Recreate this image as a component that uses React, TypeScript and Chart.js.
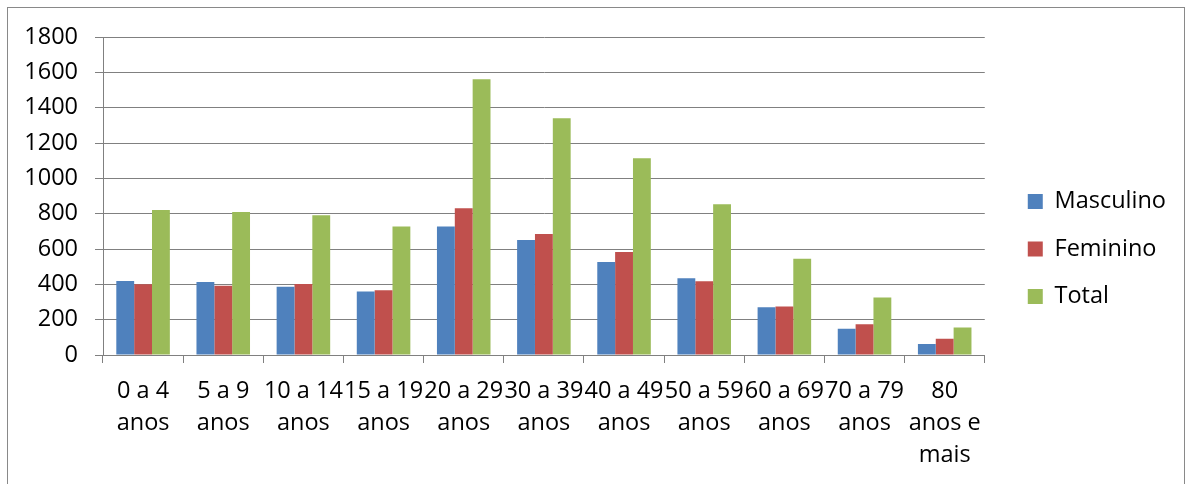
import { useEffect, useRef } from "react";
import { Chart, registerables } from "chart.js";

Chart.register(...registerables);

const categories: string[][] = [
  ["0 a 4", "anos"],
  ["5 a 9", "anos"],
  ["10 a 14", "anos"],
  ["15 a 19", "anos"],
  ["20 a 29", "anos"],
  ["30 a 39", "anos"],
  ["40 a 49", "anos"],
  ["50 a 59", "anos"],
  ["60 a 69", "anos"],
  ["70 a 79", "anos"],
  ["80", "anos e", "mais"],
];

const seriesNames = ["Masculino", "Feminino", "Total"];
const masculino = [419, 413, 387, 360, 728, 651, 526, 434, 270, 149, 62];
const feminino = [400, 392, 402, 366, 830, 685, 583, 417, 274, 174, 92];
const total = [821, 810, 791, 727, 1561, 1340, 1113, 853, 545, 325, 155];
const seriesColors = ["#4F81BD", "#C0504D", "#9BBB59"];

const yMin = 0;
const yMax = 1800;
const yStep = 200;

const GRID = "#808080";
const FONT = { family: "'Open Sans', sans-serif", size: 23.5, lineHeight: 1.36 };

export default function App() {
  const canvasRef = useRef<HTMLCanvasElement | null>(null);

  useEffect(() => {
    const canvas = canvasRef.current;
    if (!canvas) return;
    const values = [masculino, feminino, total];
    const chart = new Chart(canvas, {
      type: "bar",
      data: {
        labels: categories,
        datasets: seriesNames.map((name, i) => ({
          label: name,
          data: values[i],
          backgroundColor: seriesColors[i],
          borderWidth: 0,
          categoryPercentage: 0.668,
          barPercentage: 1.0,
          xAxisID: "x",
          yAxisID: "y",
        })),
      },
      options: {
        animation: false,
        responsive: true,
        maintainAspectRatio: false,
        layout: { padding: { top: 14, bottom: 0, left: 20, right: 17 } },
        plugins: {
          tooltip: { enabled: false },
          title: { display: false },
          legend: {
            display: true,
            position: "right",
            align: "center",
            labels: {
              boxWidth: 15,
              boxHeight: 15,
              padding: 24,
              color: "#000",
              font: FONT,
            },
          },
        },
        scales: {
          x: {
            position: "bottom",
            offset: true,
            grid: {
              display: true,
              drawOnChartArea: false,
              drawTicks: true,
              tickLength: 8,
              color: GRID,
              lineWidth: 1,
              offset: true,
            },
            border: { display: true, color: GRID, width: 1 },
            ticks: {
              autoSkip: false,
              maxRotation: 0,
              minRotation: 0,
              padding: 12,
              color: "#000",
              font: FONT,
            },
            afterFit: (s: any) => {
              s.height = 129;
            },
          },
          xTopGap: {
            type: "linear",
            position: "top",
            display: true,
            grid: { display: false },
            ticks: { display: false },
            border: { display: false },
            afterFit: (s: any) => {
              s.height = 23;
            },
          },
          y: {
            type: "linear",
            position: "left",
            min: yMin,
            max: yMax,
            ticks: {
              stepSize: yStep,
              padding: 17,
              color: "#000",
              font: FONT,
              callback: (v: any) => String(v),
            },
            grid: { color: GRID, lineWidth: 1, tickLength: 8 },
            border: { display: true, color: GRID, width: 1 },
            afterFit: (s: any) => {
              s.width = 83;
            },
          },
          yGap: {
            type: "linear",
            position: "right",
            display: true,
            grid: { display: false },
            ticks: { display: false },
            border: { display: false },
            afterFit: (s: any) => {
              s.width = 19;
            },
          },
        },
      } as any,
    });
    return () => chart.destroy();
  }, []);

  return (
    <div
      style={{
        position: "fixed",
        left: 0,
        top: 0,
        width: 1193,
        height: 484,
        overflow: "hidden",
        background: "#fff",
      }}
    >
      <div
        style={{
          position: "absolute",
          left: 7,
          top: 7,
          width: 1178,
          height: 600,
          boxSizing: "border-box",
          border: "1px solid #898989",
          pointerEvents: "none",
        }}
      />
      <canvas ref={canvasRef} style={{ position: "absolute", left: 0, top: 0 }} />
    </div>
  );
}
